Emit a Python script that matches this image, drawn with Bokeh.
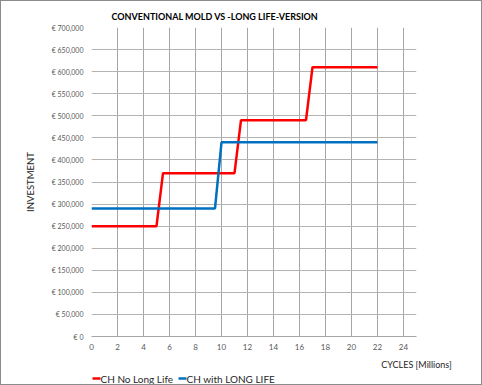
from bokeh.plotting import figure
from bokeh.models import Range1d, SingleIntervalTicker, CustomJSTickFormatter
from bokeh.layouts import column
from bokeh.core.properties import value
from bokeh.embed import file_html
from bokeh.resources import INLINE

# ---- data ----
title_text = "CONVENTIONAL MOLD VS -LONG LIFE-VERSION"
y_title = "INVESTMENT"
x_title = "CYCLES [Millions]"
series_names = ["CH No Long Life", "CH with LONG LIFE"]
series_colors = ["#ff0000", "#0070c0"]
no_long_x = [0, 5, 5.5, 11, 11.5, 16.5, 17, 22]
no_long_y = [250000, 250000, 370000, 370000, 490000, 490000, 610000, 610000]
long_x = [0, 9.5, 10, 22]
long_y = [290000, 290000, 440000, 440000]
x_max = 25
y_max = 700000

FONT = "Lato"
W = 480
H_MAIN, H_LEG = 371, 12
FRAME_L, FRAME_R = 90, 65   # side borders of the plot frame (pixels)

p = figure(width=W, height=H_MAIN, output_backend="svg", toolbar_location=None,
           x_range=Range1d(0, x_max), y_range=Range1d(0, y_max),
           min_border_left=FRAME_L, min_border_right=FRAME_R, min_border_top=26,
           min_border_bottom=36)
p.outline_line_color = None
p.background_fill_color = "white"
p.border_fill_color = "white"

p.title.text = title_text
p.title.text_font = FONT
p.title.text_font_style = "bold"
p.title.text_font_size = "9px"
p.title.text_color = "black"
p.title.align = "left"
p.title.offset = 20
p.title.standoff = 11

# axes
p.xaxis.ticker = SingleIntervalTicker(interval=2)
p.yaxis.ticker = SingleIntervalTicker(interval=50000)
p.yaxis.formatter = CustomJSTickFormatter(code='return "\u20ac " + tick.toLocaleString("en-US");')
for ax in (p.xaxis[0], p.yaxis[0]):
    ax.major_tick_line_color = None
    ax.minor_tick_line_color = None
    ax.major_tick_out = 0
    ax.major_tick_in = 0
    ax.minor_tick_out = 0
    ax.major_label_text_font = FONT
    ax.major_label_text_color = "#595959"
    ax.axis_label_text_font = FONT
    ax.axis_label_text_font_style = "normal"
    ax.axis_label_text_color = "#262626"
p.xaxis.axis_line_color = "#a6a6a6"
p.yaxis.axis_line_color = None
p.xaxis.major_label_text_font_size = "8px"
p.yaxis.major_label_text_font_size = "7px"
p.xaxis.major_label_standoff = 7
p.yaxis.major_label_standoff = 8

p.yaxis.axis_label = y_title
p.yaxis.axis_label_text_font_size = "9.5px"
p.yaxis.axis_label_standoff = 13
p.xaxis.axis_label = x_title
p.xaxis.axis_label_text_font_size = "9px"
p.xaxis.axis_label_standoff = 6
p.xaxis.axis_label_align = "end"
p.xaxis.axis_label_text_align = "right"

p.xgrid.ticker = p.xaxis.ticker
p.ygrid.ticker = p.yaxis.ticker
p.xgrid.grid_line_color = "#a6a6a6"
p.ygrid.grid_line_color = "#b4b4b4"
p.xgrid.grid_line_width = 1
p.ygrid.grid_line_width = 1

p.line(no_long_x, no_long_y, line_color=series_colors[0], line_width=2.5)
p.line(long_x, long_y, line_color=series_colors[1], line_width=2.5)

# ---- legend strip: its frame is aligned with the main frame, so the range
# is expressed in page pixels spanning that frame ----
leg = figure(width=W, height=H_LEG, output_backend="svg", toolbar_location=None,
             x_range=Range1d(FRAME_L + 1, W - FRAME_R + 1), y_range=Range1d(0, H_LEG),
             x_axis_type=None, y_axis_type=None, min_border=0)
leg.grid.visible = False
leg.outline_line_color = None
leg.background_fill_color = "white"
leg.border_fill_color = "white"
sw_x0 = [92, 178]
leg.segment(x0=sw_x0, y0=[H_LEG / 2] * 2, x1=[x + 8 for x in sw_x0], y1=[H_LEG / 2] * 2,
            line_color=series_colors, line_width=2.5)
leg.text(x=[x + 8 for x in sw_x0], y=[H_LEG / 2] * 2, text=series_names,
         text_font=value(FONT), text_font_size="10px", text_color="#262626",
         text_align="left", text_baseline="middle")

lay = column(p, leg, spacing=0, styles={"border": "1px solid #8c8c8c"})

open("out.html", "w").write(file_html(lay, INLINE))
